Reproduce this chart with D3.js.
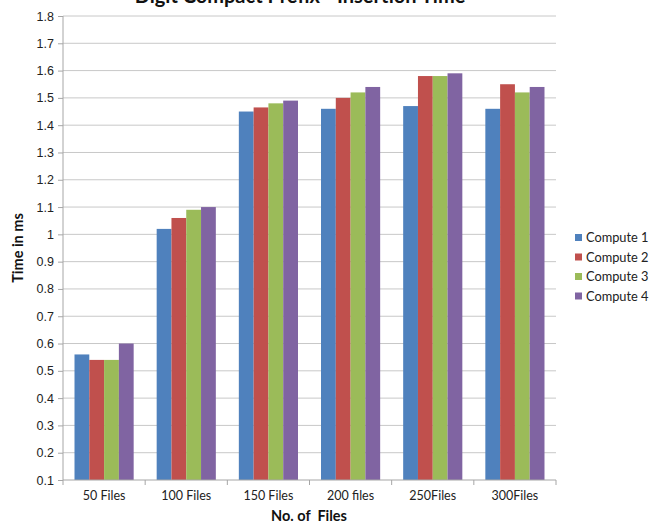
<!DOCTYPE html>
<html>
<head>
<meta charset="utf-8">
<script src="https://cdn.jsdelivr.net/npm/d3@7"></script>
<style>
  html, body { margin: 0; padding: 0; background: #fff; }
  svg { display: block; font-family: Lato, "Liberation Sans", sans-serif; }
</style>
</head>
<body>
<svg id="chart" width="652" height="523"></svg>
<script>
// Insertion time per file batch, one series per compute node
const categories = ["50 Files", "100 Files", "150 Files", "200 files", "250Files", "300Files"];
const seriesNames = ["Compute 1", "Compute 2", "Compute 3", "Compute 4"];
const compute1 = [0.56, 1.02, 1.45, 1.46, 1.47, 1.46];
const compute2 = [0.54, 1.06, 1.465, 1.50, 1.58, 1.55];
const compute3 = [0.54, 1.09, 1.48, 1.52, 1.58, 1.52];
const compute4 = [0.60, 1.10, 1.49, 1.54, 1.59, 1.54];
const yTicks = [0.1, 0.2, 0.3, 0.4, 0.5, 0.6, 0.7, 0.8, 0.9, 1, 1.1, 1.2, 1.3, 1.4, 1.5, 1.6, 1.7, 1.8];
const colors = ["#4F81BD", "#C0504D", "#9BBB59", "#8064A2"];

const seriesValues = [compute1, compute2, compute3, compute4];

const svg = d3.select("#chart");
const plot = { left: 63, right: 556, top: 16, bottom: 480 };

const x0 = d3.scaleBand().domain(categories).range([plot.left, plot.right]).paddingInner(0.28).paddingOuter(0.14);
const x1 = d3.scaleBand().domain(seriesNames).range([0, x0.bandwidth()]);
const xCat = d3.scaleBand().domain(categories).range([plot.left, plot.right]);
const y = d3.scaleLinear().domain([0.1, 1.8]).range([plot.bottom, plot.top]);

// Horizontal gridlines
svg.append("g")
  .selectAll("line")
  .data(yTicks.slice(1))
  .join("line")
  .attr("x1", plot.left).attr("x2", plot.right)
  .attr("y1", d => y(d)).attr("y2", d => y(d))
  .attr("stroke", "#c8c8c8").attr("stroke-width", 1);

// Bars
const groups = svg.append("g")
  .selectAll("g")
  .data(categories)
  .join("g")
  .attr("transform", c => `translate(${x0(c)},0)`);

groups.selectAll("rect")
  .data((c, i) => seriesNames.map((s, j) => ({ s, j, v: seriesValues[j][i] })))
  .join("rect")
  .attr("x", d => x1(d.s))
  .attr("width", x1.bandwidth())
  .attr("y", d => y(d.v))
  .attr("height", d => y(0.1) - y(d.v))
  .attr("fill", d => colors[d.j]);

// Y axis
const yAxis = svg.append("g")
  .attr("transform", `translate(${plot.left},0)`)
  .call(d3.axisLeft(y).tickValues(yTicks).tickFormat(d => d3.format("")(+d.toFixed(1))).tickSize(5).tickPadding(4));
yAxis.select(".domain").attr("stroke", "#a6a6a6").attr("d", `M0,${plot.top}V${plot.bottom}`);
yAxis.selectAll(".tick line").attr("stroke", "#a6a6a6");
yAxis.selectAll("text").attr("font-size", 12.5).attr("fill", "#222");

// X axis with ticks between categories
const xAxis = svg.append("g").attr("transform", `translate(0,${plot.bottom})`);
xAxis.append("line")
  .attr("x1", plot.left).attr("x2", plot.right)
  .attr("stroke", "#a6a6a6");
const boundaries = categories.map(c => xCat(c)).concat([plot.right]);
xAxis.selectAll("line.tk")
  .data(boundaries)
  .join("line").attr("class", "tk")
  .attr("x1", d => d).attr("x2", d => d)
  .attr("y1", 0).attr("y2", 5)
  .attr("stroke", "#a6a6a6");
xAxis.selectAll("text")
  .data(categories)
  .join("text")
  .attr("x", c => xCat(c) + xCat.bandwidth() / 2)
  .attr("y", 20)
  .attr("text-anchor", "middle")
  .attr("font-size", 12.5)
  .attr("fill", "#222")
  .text(c => c);

// Titles
svg.append("text")
  .attr("x", 300).attr("y", 3)
  .attr("text-anchor", "middle")
  .attr("font-size", 20).attr("font-weight", "bold")
  .attr("fill", "#111")
  .text("Digit Compact Prefix - Insertion Time");

svg.append("text")
  .attr("x", 309).attr("y", 521)
  .attr("text-anchor", "middle")
  .attr("font-size", 14.5).attr("font-weight", "bold")
  .attr("fill", "#111")
  .attr("xml:space", "preserve")
  .text("No. of  Files");

svg.append("text")
  .attr("transform", "translate(23,248) rotate(-90)")
  .attr("text-anchor", "middle")
  .attr("font-size", 14.5).attr("font-weight", "bold")
  .attr("fill", "#111")
  .text("Time in ms");

// Legend
const legend = svg.append("g").attr("transform", "translate(575,237.5)");
const items = legend.selectAll("g")
  .data(seriesNames)
  .join("g")
  .attr("transform", (d, i) => `translate(0,${i * 19.5})`);
items.append("rect")
  .attr("x", 0).attr("y", -3.5).attr("width", 7).attr("height", 7)
  .attr("fill", (d, i) => colors[i]);
items.append("text")
  .attr("x", 11).attr("y", 4.5)
  .attr("font-size", 12.8)
  .attr("fill", "#222")
  .text(d => d);
</script>
</body>
</html>
